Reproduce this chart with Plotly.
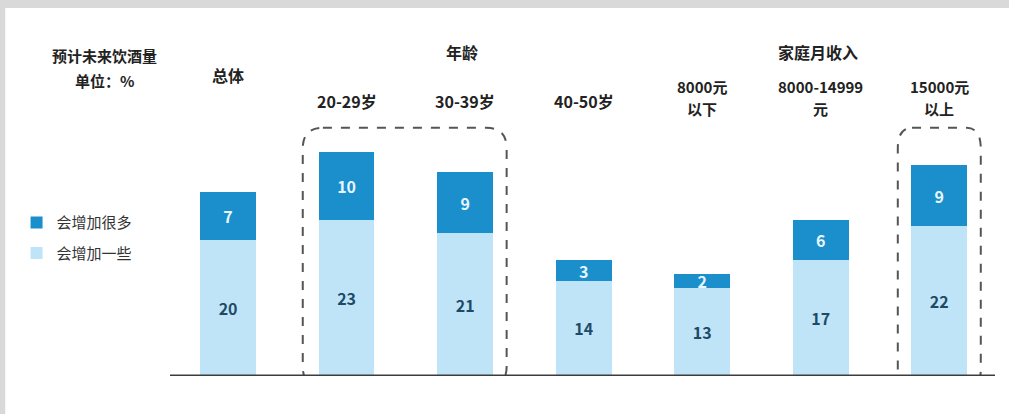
import plotly.graph_objects as go

# Category labels (top of chart) and stacked values, in %
categories = ["总体", "20-29岁", "30-39岁", "40-50岁", "8000元<br>以下", "8000-14999<br>元", "15000元<br>以上"]
some_increase = [20, 23, 21, 14, 13, 17, 22]   # 会增加一些
much_increase = [7, 10, 9, 3, 2, 6, 9]         # 会增加很多
group_titles = ["年龄", "家庭月收入"]

LIGHT = "#bfe4f8"
DARK = "#1b8fcb"
FONT = "Noto Sans CJK SC"

x = list(range(len(categories)))

fig = go.Figure()
fig.add_trace(go.Bar(
    x=x, y=some_increase, name="会增加一些", marker=dict(color=LIGHT, line=dict(width=0)),
    text=[str(v) for v in some_increase], textposition="inside", insidetextanchor="middle",
    textangle=0, textfont=dict(color="#1f4a66", size=16, family=FONT, weight="bold"),
    constraintext="none", legendrank=2, legendgroup="some", width=0.47,
))
fig.add_trace(go.Bar(
    x=x, y=much_increase, name="会增加很多", marker=dict(color=DARK, line=dict(width=0)),
    text=[str(v) for v in much_increase], textposition="inside", insidetextanchor="middle",
    textangle=0, textfont=dict(color="#e6f6ff", size=16, family=FONT, weight="bold"),
    constraintext="none", legendrank=1, legendgroup="much", width=0.47,
))

xmin, xmax = -0.49, 6.47
ymax = 40.6
plot_h = 276  # plot-area height in px, used to space header lines

hdr_font = dict(size=16, color="#222", family=FONT)
annotations = []
# category headers: single-line labels at one height, two-line labels stacked line by line
single_y = {0: 1.09}
for i, c in enumerate(categories):
    lines = c.split("<br>")
    if len(lines) == 1:
        ly = single_y.get(i, 0.998)
        annotations.append(dict(x=i, y=ly, xref="x", yref="paper", xanchor="center",
                                yanchor="middle", text=f"<b>{c}</b>", showarrow=False,
                                font=hdr_font))
    else:
        top_y = 1.049
        for k, ln in enumerate(lines):
            annotations.append(dict(x=i, y=top_y - k * 22 / plot_h, xref="x", yref="paper",
                                    xanchor="center", yanchor="middle", text=f"<b>{ln}</b>",
                                    showarrow=False, font=dict(size=15, color="#222", family=FONT)))
# group titles
annotations.append(dict(x=1.97, y=1.174, xref="x", yref="paper", xanchor="center", yanchor="middle",
                        text=f"<b>{group_titles[0]}</b>", showarrow=False, font=hdr_font))
annotations.append(dict(x=4.98, y=1.174, xref="x", yref="paper", xanchor="center", yanchor="middle",
                        text=f"<b>{group_titles[1]}</b>", showarrow=False, font=hdr_font))
annotations.append(dict(x=-0.079, y=1.163, xref="paper", yref="paper", xanchor="center",
                        yanchor="middle", text="<b>预计未来饮酒量</b>", showarrow=False,
                        font=dict(size=15, color="#222", family=FONT)))
annotations.append(dict(x=-0.079, y=1.07, xref="paper", yref="paper", xanchor="center",
                        yanchor="middle", text="<b>单位：%</b>", showarrow=False,
                        font=dict(size=15, color="#222", family=FONT)))


def rounded_box(x0, x1, y0, y1, rx, ry):
    return (f"M {x0+rx},{y1} L {x1-rx},{y1} Q {x1},{y1} {x1},{y1-ry} "
            f"L {x1},{y0+ry} Q {x1},{y0} {x1-rx},{y0} "
            f"L {x0+rx},{y0} Q {x0},{y0} {x0},{y0+ry} "
            f"L {x0},{y1-ry} Q {x0},{y1} {x0+rx},{y1} Z")


dash_line = dict(color="#555", width=2, dash="dash")
GREY = "#d9d9d9"
shapes = [
    # grey frame strips along the top and left edges of the page
    dict(type="rect", xref="paper", yref="paper", x0=-0.25, x1=1.05, y0=1.333, y1=1.45,
         fillcolor=GREY, line=dict(width=0), layer="below"),
    dict(type="rect", xref="paper", yref="paper", x0=-0.25, x1=-0.1997, y0=-0.2, y1=1.45,
         fillcolor=GREY, line=dict(width=0), layer="below"),
    # highlight boxes
    dict(type="path", xref="x", yref="y", path=rounded_box(0.63, 2.35, -1.6, 36.5, 0.17, 3.0),
         line=dash_line),
    dict(type="path", xref="x", yref="y", path=rounded_box(5.65, 6.35, -2.0, 36.5, 0.12, 3.0),
         line=dash_line),
    # baseline
    dict(type="line", xref="paper", yref="y", x0=0, x1=1, y0=0, y1=0,
         line=dict(color="#3c3c3c", width=3)),
]

fig.update_layout(
    barmode="stack",
    width=1009, height=414,
    margin=dict(l=170, r=14, t=100, b=38),
    paper_bgcolor="white",
    plot_bgcolor="rgba(0,0,0,0)",
    font=dict(family=FONT, color="#333"),
    xaxis=dict(range=[xmin, xmax], showgrid=False, zeroline=False, showticklabels=False,
               ticks="", showline=False),
    yaxis=dict(range=[0, ymax], showgrid=False, zeroline=False, showticklabels=False,
               ticks="", showline=False),
    legend=dict(x=-0.186, y=0.615, xanchor="left", yanchor="top", traceorder="grouped",
                tracegroupgap=8, itemwidth=30, bgcolor="rgba(0,0,0,0)",
                font=dict(size=15, color="#333", family=FONT)),
    annotations=annotations,
    shapes=shapes,
)

fig.write_html("out.html")
